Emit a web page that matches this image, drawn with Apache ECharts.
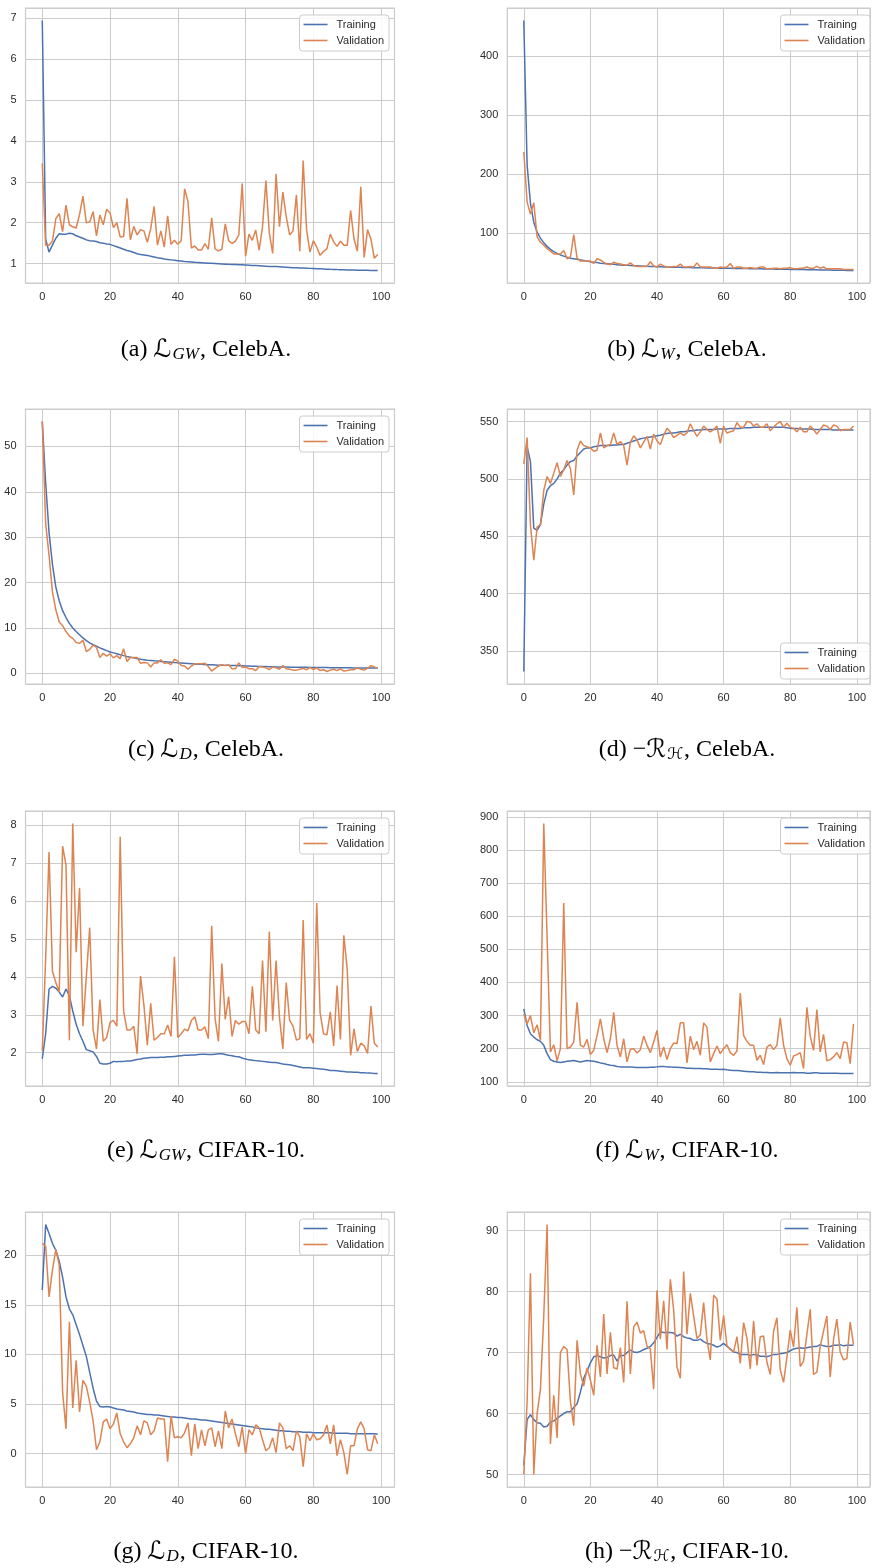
<!DOCTYPE html>
<html><head><meta charset="utf-8">
<script src="https://cdn.jsdelivr.net/npm/echarts@6/dist/echarts.min.js"></script>
<style>html,body{margin:0;padding:0;background:#fff}#c{width:873px;height:1568px}</style>
</head><body><div id="c"></div>
<script>
// ---- data ----
const seriesNames = ['Training', 'Validation'];
const xTickInterval = 20;

const trainA = [6.95,1.60,1.28,1.45,1.62,1.73,1.72,1.72,1.74,1.73,
1.68,1.65,1.62,1.58,1.56,1.55,1.54,1.51,1.50,1.48,
1.47,1.44,1.41,1.38,1.35,1.32,1.30,1.27,1.24,1.22,
1.21,1.20,1.18,1.16,1.14,1.13,1.11,1.10,1.09,1.08,
1.07,1.06,1.05,1.045,1.04,1.03,1.025,1.02,1.015,1.01,
1.005,1.00,0.995,0.99,0.985,0.98,0.978,0.975,0.972,0.97,
0.965,0.96,0.955,0.95,0.945,0.94,0.935,0.93,0.928,0.925,
0.92,0.915,0.91,0.905,0.90,0.897,0.894,0.89,0.886,0.882,
0.878,0.874,0.87,0.866,0.862,0.858,0.855,0.852,0.85,0.848,
0.845,0.843,0.841,0.839,0.837,0.835,0.834,0.833,0.832,0.83];
const valA = [3.45,1.45,1.45,1.55,2.10,2.22,1.78,2.43,1.95,1.90,
1.87,2.20,2.65,2.00,2.02,2.27,1.68,2.19,1.95,2.33,
2.24,1.88,2.00,1.65,1.66,2.60,1.58,1.91,1.70,1.83,
1.80,1.52,1.85,2.40,1.45,1.80,1.40,2.17,1.47,1.57,
1.47,1.56,2.83,2.52,1.38,1.43,1.33,1.33,1.49,1.35,
2.12,1.36,1.31,1.35,1.97,1.56,1.49,1.55,1.70,2.96,
1.18,1.72,1.57,1.82,1.33,1.90,3.03,1.75,1.25,3.20,
1.90,2.75,2.15,1.70,1.80,2.68,1.30,3.52,1.83,1.28,
1.56,1.40,1.20,1.30,1.36,1.72,1.53,1.42,1.55,1.45,
1.45,2.30,1.60,1.30,2.88,1.15,1.83,1.60,1.13,1.22];

const trainB = [460,215,150,118,101,91,83,77,72,68,
65,62.5,60.5,58.5,57,56,55,54,53,52,
51,50,49.5,48.5,48,47.5,47,46.5,46,45.5,
45,44.8,44.5,44.2,44,43.8,43.5,43.2,43,42.8,
42.5,42.3,42.1,42,41.8,41.7,41.5,41.4,41.2,41.1,
41,40.9,40.8,40.7,40.6,40.5,40.4,40.3,40.2,40.1,
40,39.9,39.8,39.7,39.6,39.5,39.4,39.3,39.2,39.1,
39,38.9,38.8,38.7,38.6,38.5,38.4,38.3,38.2,38.1,
38,37.9,37.8,37.7,37.6,37.5,37.4,37.3,37.2,37.1,
37,36.9,36.8,36.7,36.6,36.5,36.4,36.3,36.2,36.1];
const valB = [237,152,132,151,93,84,79,73,69,64,
64,64,70,56,59,97,57,52,52,52,
52,48,56,54,50,47,46,50,48,47,
46,45,49,44.5,43,43,43,43,51,44,
42,47,44,42,42,43,43,47,42,42,
43,42,49,42,42,42,42,40,40,42,
41,42,48,40,42,42,40,40,41,40,
40,42,42,39,39,40,40,39,40,40,
41,39,39,40,40,42,40,40,43,40,
42,39,39,39,39,39,38,38,38,38];

const trainC = [55.5,42,31,24,19,16,13.8,12.3,11,10,
9.2,8.5,7.8,7.2,6.7,6.3,6.0,5.6,5.3,5.0,
4.7,4.5,4.3,4.1,3.9,3.7,3.55,3.4,3.25,3.1,
3.0,2.9,2.85,2.75,2.7,2.6,2.55,2.5,2.45,2.4,
2.3,2.25,2.2,2.15,2.1,2.05,2.0,2.0,1.95,1.9,
1.9,1.85,1.8,1.8,1.75,1.75,1.7,1.7,1.65,1.65,
1.6,1.6,1.55,1.55,1.5,1.5,1.5,1.45,1.45,1.4,
1.4,1.4,1.38,1.36,1.35,1.34,1.33,1.32,1.31,1.3,
1.3,1.29,1.28,1.27,1.26,1.25,1.24,1.23,1.22,1.21,
1.2,1.2,1.19,1.19,1.18,1.17,1.17,1.16,1.16,1.15];
const valC = [55.5,33,26,18,14,11.3,10.5,9.2,8.2,7.7,
6.8,6.6,7.3,4.8,5.3,6.2,5.7,3.5,4.4,3.8,
4.3,3.4,3.9,3.2,5.4,2.6,3.5,3.5,3.5,2.2,
2.4,2.3,1.4,2.3,2.3,3.0,2.2,2.3,1.9,3.1,
2.7,1.7,1.6,0.9,1.6,2.1,2.1,2.1,2.2,1.5,
0.5,1.1,1.6,1.9,1.7,1.9,1.0,1.0,2.3,1.3,
1.4,1.0,1.0,0.6,1.5,1.4,1.2,0.8,1.4,1.2,
0.9,1.7,1.0,0.9,0.7,0.7,0.9,1.1,0.8,1.3,
0.8,1.2,0.6,0.8,0.4,0.7,0.9,0.6,1.0,0.5,
0.6,0.8,0.8,1.2,0.9,0.7,1.1,1.7,1.4,1.2];

const trainD = [332,528,515,457,455,460,478,490,494,496,
500,505,508,512,515,516,520,523,526,527,
527,528,528.5,529,529,529,529,529.5,529.5,530,
530,531,532,533,534,535,535.5,536,536.5,537,
537.5,538,539,539.5,540,540,540.5,541,541,541.5,
542,542,542.5,542.5,543,543,543,543,543.5,543.5,
543.5,543.5,544,544,544,544,544.5,544.5,544.5,545,
545,545,545,545,545,545,545,545,545,544.5,
544,544,544,543.5,543.5,543.5,543.5,543,543,543,
543,543,543,542.5,542.5,542.5,542.5,542.5,542.5,542.5];
const valD = [513,536,460,429,458,460,490,502,496,505,
514,502,508,516,509,486,525,533,529,528,
527,524,525,540,527,529,530,540,530,532.5,
529,512,532,537.5,534,527,532,537,526,539,
533,530,538,544,541,536,538,540,538,540,
548,542,537,541,546,543,541,543,546,531,
546,540,541,542,549,545,545,550,549.5,546,
548,545,545,548,542,545,548,550,545,548.5,
545,544,541,545,541,541,546,543,539,543,
547,546,543,547,546,542,543,543,543,546];

const trainE = [1.84,2.5,3.68,3.75,3.7,3.6,3.47,3.68,3.5,3.1,
2.75,2.5,2.3,2.08,2.05,2.02,1.9,1.72,1.7,1.7,
1.72,1.77,1.76,1.77,1.77,1.78,1.78,1.8,1.82,1.83,
1.85,1.86,1.87,1.87,1.87,1.88,1.88,1.89,1.89,1.9,
1.91,1.92,1.93,1.93,1.94,1.94,1.95,1.96,1.96,1.95,
1.95,1.96,1.97,1.97,1.95,1.93,1.92,1.9,1.89,1.86,
1.83,1.81,1.8,1.79,1.78,1.77,1.76,1.75,1.74,1.74,
1.72,1.7,1.69,1.68,1.66,1.64,1.62,1.6,1.6,1.6,
1.59,1.58,1.57,1.56,1.55,1.53,1.53,1.52,1.51,1.5,
1.49,1.49,1.48,1.48,1.47,1.47,1.46,1.46,1.45,1.45];
const valE = [2.05,4.5,7.3,4.15,3.85,3.6,7.45,6.95,2.33,8.05,
4.65,6.35,2.7,4.0,5.3,2.6,2.1,3.4,2.3,2.4,
2.8,2.85,2.7,7.7,3.1,2.6,2.6,2.7,1.97,4.02,
3.25,2.2,3.3,2.33,2.4,2.5,2.5,2.73,2.43,4.53,
2.4,2.5,2.62,2.58,2.85,2.95,2.6,2.6,2.68,2.37,
5.35,2.9,2.3,4.35,2.88,3.48,2.43,2.85,2.75,2.82,
2.82,2.5,3.75,2.6,2.5,4.43,2.55,5.2,2.85,4.43,
2.93,2.1,3.85,2.85,2.7,2.33,2.37,5.5,2.35,2.5,
2.25,5.95,3.05,2.5,2.47,3.08,2.18,3.77,2.35,5.1,
4.2,1.93,2.63,2.03,2.25,2.18,1.98,3.23,2.25,2.15];

const trainF = [320,270,245,235,227,222,210,185,167,162,
160,158,160,162,163,164,162,160,162,164,
163,162,160,157,155,152,150,149,146,145,
145,145,145,144,143,143,143,143,144,144,
145,146,146,145,145,144,144,143,142,141,
141,140,140,140,139,139,138,138,138,137,
138,136,135,134,134,133,132,131,130,130,
129,129,128,128,127,127,128,127,127,127,
127,128,127,127,127,126,126,127,127,126,
126,126,126,126,126,125,125,125,125,125];
const valF = [305,275,300,248,272,225,880,535,190,212,
163,200,640,200,205,220,340,210,205,228,
182,195,240,290,230,188,230,310,210,175,
230,160,198,200,187,197,238,210,188,220,
255,175,205,167,200,217,215,278,278,157,
238,197,222,180,278,265,160,185,208,185,
200,212,188,180,193,368,240,222,210,210,
165,180,152,205,212,197,210,293,210,170,
150,178,182,188,140,325,238,195,318,190,
243,163,167,175,188,170,220,218,155,275];

const trainG = [16.5,23.1,22.2,21.2,20.5,19.4,17.8,15.8,14.6,14.0,
13.0,12.0,10.9,9.8,8.2,6.6,5.3,4.75,4.7,4.75,
4.7,4.6,4.5,4.45,4.4,4.3,4.25,4.2,4.1,4.05,
4.0,3.95,3.95,3.9,3.9,3.85,3.8,3.75,3.7,3.7,
3.65,3.65,3.6,3.55,3.5,3.5,3.45,3.4,3.4,3.35,
3.3,3.25,3.2,3.15,3.1,3.05,3.0,2.95,2.9,2.85,
2.8,2.75,2.7,2.6,2.55,2.5,2.45,2.45,2.4,2.35,
2.3,2.3,2.25,2.25,2.2,2.2,2.2,2.15,2.15,2.15,
2.1,2.1,2.1,2.1,2.1,2.1,2.05,2.05,2.05,2.05,
2.05,2.0,2.0,2.0,2.0,2.0,2.0,2.0,2.0,1.95];
const valG = [21.2,20.9,15.8,18.5,20.6,19.0,6.2,2.5,13.3,4.6,
9.4,4.2,7.4,6.8,5.2,3.3,0.4,1.2,3.2,3.5,
2.5,3.0,4.1,2.0,1.2,0.6,1.0,1.6,2.8,1.9,
3.3,3.1,1.9,2.3,3.6,3.5,3.5,-0.8,3.8,1.6,
1.7,1.6,2.1,3.1,-0.2,3.0,0.5,2.4,0.8,2.4,
2.6,0.7,2.3,0.5,4.3,2.6,3.5,2.0,0.7,2.7,
0.0,2.4,1.9,2.9,2.6,1.4,0.3,0.6,1.6,0.1,
3.1,2.6,0.5,0.8,0.3,2.3,1.7,-1.3,2.0,1.3,
2.0,1.4,1.5,1.9,2.9,1.0,2.9,-0.2,1.4,0.1,
-2.1,0.8,0.8,2.5,3.2,2.5,0.4,0.3,1.9,1.0];

const trainH = [51.5,59.0,59.8,59.0,58.5,58.4,57.8,57.9,58.6,58.8,
59.2,59.6,60.0,60.3,60.3,61.0,61.6,63.5,65.8,67.0,
68.3,69.3,69.5,69.3,69.1,69.2,69.5,69.6,68.6,69.5,
69.5,70.0,70.4,70.1,70.0,70.2,70.5,70.7,71.0,71.6,
72.5,73.4,73.3,73.3,73.3,73.2,72.7,73.0,72.6,72.4,
72.3,72.0,72.0,72.2,71.8,71.5,71.4,71.2,70.9,71.1,
71.5,71.0,70.6,70.1,70.0,69.7,69.7,69.7,69.5,69.7,
69.6,69.4,69.4,69.3,69.5,69.7,69.7,69.8,69.9,70.0,
70.3,70.6,70.7,70.8,70.7,70.8,70.9,71.0,71.0,71.3,
71.1,71.0,71.0,71.2,71.2,71.3,71.1,71.2,71.2,71.2];
const valH = [50.0,62,83,50,60,64,76,91,55,63,
56,70,71,70.5,62,58,72,66.5,64.5,67.5,
65.5,63,71.2,66,76.3,66.5,73.3,67.5,67.3,70.8,
65.1,78.4,66.5,74.2,75,73.2,73.6,71,70.6,64,
80.2,72.2,78.5,70.5,82,77,67.6,65.8,83.3,73,
79.7,76,72.3,72.9,78.2,72.1,68.8,79.4,78.8,72.0,
76.1,71.1,70.5,70.1,72.6,68.2,74.9,72.3,67.3,75.2,
67.9,72.6,72.7,68.4,66.4,73.5,75.7,67.2,65.1,69.2,
73.7,70.9,77.4,67.7,68.6,73,77.1,66.4,66.8,71,
73.5,76,66.0,72.1,75.5,70.1,68.8,69.0,75.0,71.3];

const yTickIntervals = [1, 100, 10, 50, 1, 100, 5, 10];
const legendAtBottom = [false, false, false, true, false, false, false, false];
const captions = [
  '{n|(a) }{l|ℒ}{s|GW}{n|, CelebA.}',
  '{n|(b) }{l|ℒ}{s|W}{n|, CelebA.}',
  '{n|(c) }{l|ℒ}{s|D}{n|, CelebA.}',
  '{n|(d) −}{l|ℛ}{c|ℋ}{n|, CelebA.}',
  '{n|(e) }{l|ℒ}{s|GW}{n|, CIFAR-10.}',
  '{n|(f) }{l|ℒ}{s|W}{n|, CIFAR-10.}',
  '{n|(g) }{l|ℒ}{s|D}{n|, CIFAR-10.}',
  '{n|(h) −}{l|ℛ}{c|ℋ}{n|, CIFAR-10.}'
];
const trainSets = [trainA, trainB, trainC, trainD, trainE, trainF, trainG, trainH];
const valSets = [valA, valB, valC, valD, valE, valF, valG, valH];

// ---- layout / style ----
const colLeft = [25.5, 507.3], colWidth = [369, 367.7];
const rowTop = [8, 409, 811, 1212], plotH = 275;
const captionX = [206, 687], captionY = [350, 750, 1151, 1552];
const blue = '#4c72b0', orange = '#dd8452', gridColor = '#cccccc';
const labelFont = 'Liberation Sans, Arial, sans-serif';

function multipleFmt(step) {
  return function (v) {
    const r = v / step;
    return Math.abs(r - Math.round(r)) < 1e-6 ? String(+v.toFixed(6)) : '';
  };
}

const grids = [], xAxes = [], yAxes = [], series = [], legends = [], graphics = [];
trainSets.forEach(function (tr, k) {
  const va = valSets[k];
  const col = k % 2, row = Math.floor(k / 2);
  const all = tr.concat(va);
  const lo = Math.min.apply(null, all), hi = Math.max.apply(null, all);
  const pad = 0.05 * (hi - lo);
  grids.push({left: colLeft[col], top: rowTop[row], width: colWidth[col], height: plotH,
    show: true, borderColor: gridColor, borderWidth: 1.2, backgroundColor: '#fff'});
  xAxes.push({type: 'value', gridIndex: k, min: -4.95, max: 103.95,
    minInterval: xTickInterval, maxInterval: xTickInterval, splitNumber: 5,
    axisLine: {show: false}, axisTick: {show: false},
    splitLine: {show: true, lineStyle: {color: gridColor, width: 1}},
    axisLabel: {margin: 8, fontSize: 11, color: '#2b2b2b', fontFamily: labelFont, formatter: multipleFmt(xTickInterval)}});
  const yi = yTickIntervals[k];
  yAxes.push({type: 'value', gridIndex: k, min: lo - pad, max: hi + pad,
    minInterval: yi, maxInterval: yi, splitNumber: 6,
    axisLine: {show: false}, axisTick: {show: false},
    splitLine: {show: true, lineStyle: {color: gridColor, width: 1}},
    axisLabel: {margin: 9, fontSize: 11, color: '#2b2b2b', fontFamily: labelFont, formatter: multipleFmt(yi)}});
  series.push({type: 'line', name: seriesNames[0], xAxisIndex: k, yAxisIndex: k,
    data: tr.map(function (v, i) { return [i, v]; }), symbol: 'none', showSymbol: false,
    lineStyle: {color: blue, width: 1.5}, itemStyle: {color: blue}, silent: true, z: 2});
  series.push({type: 'line', name: seriesNames[1], xAxisIndex: k, yAxisIndex: k,
    data: va.map(function (v, i) { return [i, v]; }), symbol: 'none', showSymbol: false,
    lineStyle: {color: orange, width: 1.5}, itemStyle: {color: orange}, silent: true, z: 3});
  const lg = {orient: 'vertical', data: seriesNames, selectedMode: false,
    right: col === 0 ? 873 - 389 : 3,
    icon: 'rect', itemWidth: 24, itemHeight: 1.6, itemGap: 3,
    textStyle: {fontSize: 11, lineHeight: 13, color: '#2b2b2b', fontFamily: labelFont, padding: [0, 0, 0, 4]},
    backgroundColor: 'rgba(255,255,255,0.85)', borderColor: gridColor, borderWidth: 1, borderRadius: 3,
    padding: [3, 5, 4, 4], z: 10};
  if (legendAtBottom[k]) lg.bottom = 1568 - (rowTop[row] + plotH - 5); else lg.top = rowTop[row] + 7;
  legends.push(lg);
  graphics.push({type: 'text', x: captionX[col], y: captionY[row], silent: true,
    style: {text: captions[k], align: 'center', verticalAlign: 'middle', fill: '#000',
      rich: {
        n: {fontFamily: 'Liberation Serif, serif', fontSize: 24, color: '#000', lineHeight: 28},
        l: {fontFamily: 'DejaVu Serif, DejaVu Sans, serif', fontSize: 25, color: '#000', lineHeight: 28},
        s: {fontFamily: 'Liberation Serif, serif', fontStyle: 'italic', fontSize: 17, color: '#000', padding: [10, 1, 0, 1]},
        c: {fontFamily: 'DejaVu Serif, DejaVu Sans, serif', fontSize: 16, color: '#000', padding: [10, 1, 0, 1]}
      }}});
});

const chart = echarts.init(document.getElementById('c'));
chart.setOption({
  animation: false,
  backgroundColor: '#fff',
  grid: grids, xAxis: xAxes, yAxis: yAxes, series: series, legend: legends,
  graphic: graphics
});
</script></body></html>
